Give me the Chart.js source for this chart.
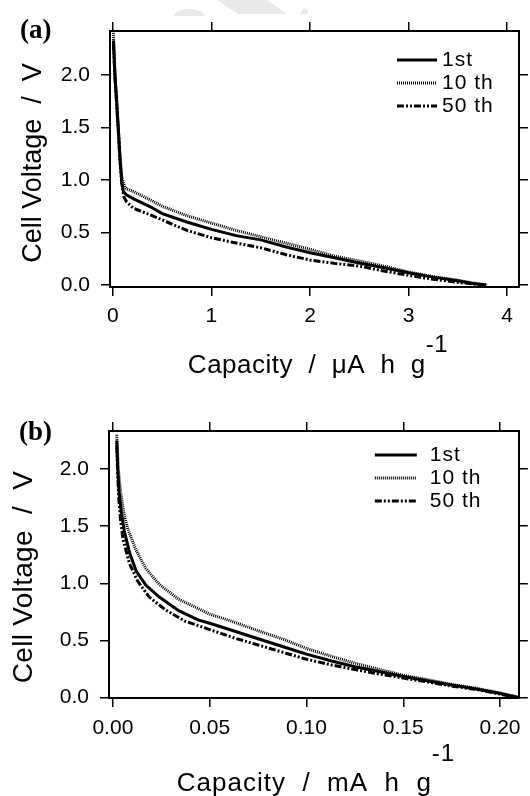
<!DOCTYPE html>
<html>
<head>
<meta charset="utf-8">
<script src="https://cdn.jsdelivr.net/npm/chart.js@4.4.0/dist/chart.umd.min.js"></script>
<style>
  html, body { margin: 0; padding: 0; background: #fff; }
  #wrap { width: 530px; height: 796px; overflow: hidden; }
  canvas { display: block; }
</style>
</head>
<body>
<div id="wrap">
  <canvas id="chartA" width="530" height="390"></canvas>
  <canvas id="chartB" width="530" height="406"></canvas>
</div>
<script>
// ----- DATA -----
const seriesNames = ["1st", "10 th", "50 th"];

// (a) capacity / uA h g-1 and cell voltage / V
const capA1st  = [0.005, 0.02, 0.037, 0.054, 0.071, 0.088, 0.105, 0.14, 0.21, 0.38, 0.5, 0.75, 1.0, 1.25, 1.5, 1.75, 2.0, 2.25, 2.5, 2.75, 3.0, 3.25, 3.5, 3.65, 3.79];
const voltA1st = [2.33, 2.0, 1.75, 1.49, 1.21, 1.0, 0.89, 0.857, 0.82, 0.745, 0.68, 0.60, 0.53, 0.47, 0.43, 0.365, 0.307, 0.26, 0.21, 0.165, 0.117, 0.075, 0.04, 0.015, 0.0];
const capA10th  = [0.003, 0.02, 0.037, 0.054, 0.071, 0.09, 0.122, 0.14, 0.21, 0.38, 0.5, 0.75, 1.0, 1.25, 1.5, 1.75, 2.0, 2.25, 2.5, 2.75, 3.0, 3.25, 3.5, 3.65, 3.8];
const voltA10th = [2.42, 2.02, 1.77, 1.51, 1.23, 1.02, 0.93, 0.914, 0.89, 0.81, 0.75, 0.66, 0.59, 0.52, 0.46, 0.40, 0.34, 0.275, 0.23, 0.18, 0.124, 0.08, 0.045, 0.02, 0.0];
const capA50th  = [0.004, 0.02, 0.037, 0.054, 0.071, 0.088, 0.11, 0.14, 0.21, 0.38, 0.55, 0.75, 1.0, 1.25, 1.5, 1.75, 2.0, 2.25, 2.5, 2.75, 3.0, 3.25, 3.5, 3.75];
const voltA50th = [2.3, 1.98, 1.73, 1.47, 1.19, 0.98, 0.84, 0.79, 0.73, 0.667, 0.60, 0.52, 0.45, 0.40, 0.355, 0.29, 0.238, 0.206, 0.18, 0.133, 0.092, 0.055, 0.025, 0.0];

// (b) capacity / mA h g-1 and cell voltage / V
const capB1st  = [0.002, 0.0025, 0.0032, 0.0045, 0.006, 0.0086, 0.012, 0.017, 0.024, 0.034, 0.044, 0.05, 0.063, 0.075, 0.088, 0.10, 0.113, 0.125, 0.138, 0.15, 0.163, 0.175, 0.188, 0.20, 0.21];
const voltB1st = [2.25, 2.0, 1.8, 1.6, 1.45, 1.27, 1.11, 0.985, 0.88, 0.76, 0.68, 0.65, 0.58, 0.515, 0.445, 0.38, 0.32, 0.27, 0.225, 0.185, 0.145, 0.11, 0.075, 0.035, 0.0];
const capB10th  = [0.002, 0.0028, 0.004, 0.0058, 0.0078, 0.012, 0.017, 0.024, 0.034, 0.044, 0.05, 0.061, 0.075, 0.088, 0.10, 0.113, 0.125, 0.138, 0.15, 0.163, 0.175, 0.188, 0.20, 0.21];
const voltB10th = [2.30, 2.0, 1.8, 1.6, 1.47, 1.29, 1.13, 0.99, 0.86, 0.78, 0.73, 0.67, 0.585, 0.51, 0.43, 0.36, 0.30, 0.245, 0.195, 0.155, 0.115, 0.08, 0.04, 0.0];
const capB50th  = [0.002, 0.0024, 0.003, 0.004, 0.0052, 0.0086, 0.0128, 0.0187, 0.027, 0.037, 0.05, 0.063, 0.075, 0.088, 0.10, 0.113, 0.125, 0.138, 0.15, 0.163, 0.175, 0.188, 0.20, 0.208];
const voltB50th = [2.2, 2.0, 1.75, 1.55, 1.39, 1.17, 1.02, 0.88, 0.77, 0.67, 0.595, 0.52, 0.46, 0.395, 0.335, 0.285, 0.245, 0.205, 0.17, 0.135, 0.10, 0.07, 0.03, 0.0];

// tick labels
const xTicksA = [0, 1, 2, 3, 4];
const xTicksB = [0, 0.05, 0.1, 0.15, 0.2];
const yTicks  = [0, 0.5, 1.0, 1.5, 2.0];

// ----- STYLES -----
const FONT = '"Liberation Sans", Arial, sans-serif';
const lineDashes = [[], [1, 1], [7, 2, 2, 2, 2, 2]];

function toPoints(xs, ys) {
  return xs.map((x, i) => ({ x: x, y: ys[i] }));
}

function makeDatasets(pairs) {
  return pairs.map((p, i) => ({
    label: seriesNames[i],
    data: toPoints(p[0], p[1]),
    borderColor: '#000',
    borderWidth: 3,
    borderDash: lineDashes[i],
    borderCapStyle: 'butt',
    pointRadius: 0,
    tension: 0,
    fill: false
  }));
}

function axis(pos, min, max, ticks, size, showLabels, pad, digits) {
  return {
    type: 'linear',
    position: pos,
    min: min,
    max: max,
    afterBuildTicks: s => { s.ticks = ticks.map(v => ({ value: v })); },
    afterFit: s => { if (s.isHorizontal()) s.height = size; else s.width = size; },
    grid: { drawOnChartArea: false, drawTicks: true, tickLength: 9, color: '#000', lineWidth: 1.5 },
    border: { display: true, color: '#000', width: 2 },
    ticks: {
      display: showLabels,
      padding: pad,
      color: '#000',
      font: { family: FONT, size: 21 },
      callback: v => Number(v).toFixed(digits)
    }
  };
}

// titles, panel letter and in-plot legend
const decor = {
  id: 'decor',
  beforeDraw(chart, args, o) {
    if (!o.watermark) return;
    // faint grey watermark fragments at the top edge
    const ctx = chart.ctx;
    ctx.save();
    ctx.fillStyle = '#e8e8e8';
    ctx.beginPath();
    ctx.moveTo(217, 0); ctx.lineTo(267, 0); ctx.lineTo(287, 14); ctx.lineTo(238, 14);
    ctx.closePath(); ctx.fill();
    ctx.beginPath();
    ctx.moveTo(300, 14); ctx.lineTo(304, 8); ctx.lineTo(308, 10); ctx.lineTo(307, 14);
    ctx.closePath(); ctx.fill();
    ctx.beginPath();
    ctx.ellipse(189, 16, 15, 7, 0, Math.PI, 2 * Math.PI);
    ctx.closePath(); ctx.fill();
    ctx.restore();
  },
  afterDraw(chart, args, o) {
    const ctx = chart.ctx;
    const area = chart.chartArea;
    ctx.save();
    ctx.fillStyle = '#000';

    ctx.font = 'bold 27px "Liberation Serif", "Times New Roman", serif';
    ctx.textAlign = 'left';
    ctx.textBaseline = 'alphabetic';
    ctx.fillText(o.panel, o.panelX, o.panelY);

    // y title
    ctx.save();
    ctx.font = o.yFont;
    ctx.letterSpacing = o.ySpacing;
    ctx.translate(o.yTitleX, o.yTitleY);
    ctx.rotate(-Math.PI / 2);
    ctx.textAlign = 'center';
    ctx.textBaseline = 'middle';
    ctx.fillText('Cell Voltage  /  V', 0, 0);
    ctx.restore();

    // x title with superscript
    ctx.letterSpacing = o.xSpacing;
    ctx.font = o.xFont;
    const w = ctx.measureText(o.xTitle).width;
    ctx.font = o.supFont;
    const ws = ctx.measureText('-1').width;
    const x0 = o.xTitleCx - (w + ws) / 2;
    ctx.textAlign = 'left';
    ctx.font = o.xFont;
    ctx.fillText(o.xTitle, x0, o.xTitleY);
    ctx.font = o.supFont;
    ctx.fillText('-1', x0 + w, o.supY);

    // legend
    ctx.letterSpacing = '1px';
    ctx.font = '21px ' + FONT;
    ctx.textBaseline = 'middle';
    chart.data.datasets.forEach((ds, i) => {
      const y = o.legTop + i * o.legStep;
      ctx.save();
      ctx.strokeStyle = ds.borderColor;
      ctx.lineWidth = ds.borderWidth;
      ctx.setLineDash(ds.borderDash);
      ctx.beginPath();
      ctx.moveTo(area.right - o.legLine0, y);
      ctx.lineTo(area.right - o.legLine1, y);
      ctx.stroke();
      ctx.restore();
      ctx.fillText(ds.label, area.right - o.legText, y);
    });
    ctx.restore();
  }
};

function makeChart(id, datasets, scales, decorOpts) {
  return new Chart(document.getElementById(id).getContext('2d'), {
    type: 'line',
    data: { datasets: datasets },
    options: {
      responsive: false,
      animation: false,
      events: [],
      layout: { padding: 0 },
      scales: scales,
      plugins: { legend: { display: false }, tooltip: { enabled: false }, decor: decorOpts }
    },
    plugins: [decor]
  });
}

// ----- CHARTS -----
makeChart('chartA',
  makeDatasets([[capA1st, voltA1st], [capA10th, voltA10th], [capA50th, voltA50th]]),
  {
    x:  axis('bottom', -0.03, 4.122, xTicksA, 103, true, 8, 0),
    x2: axis('top', -0.03, 4.122, xTicksA, 31, false, 0, 0),
    y:  axis('left', -0.019, 2.419, yTicks, 110, true, 11, 1),
    y2: axis('right', -0.019, 2.419, yTicks, 11, false, 0, 1)
  },
  {
    watermark: true,
    panel: '(a)', panelX: 20, panelY: 38,
    yFont: '27px ' + FONT, ySpacing: '0px', yTitleX: 34, yTitleY: 163,
    xTitle: 'Capacity  /  \u03bcA  h  g', xFont: '26px ' + FONT, supFont: '24px ' + FONT,
    xSpacing: '0.5px', xTitleCx: 318, xTitleY: 373, supY: 352,
    legTop: 60, legStep: 23, legLine0: 122, legLine1: 82, legText: 77
  });

makeChart('chartB',
  makeDatasets([[capB1st, voltB1st], [capB10th, voltB10th], [capB50th, voltB50th]]),
  {
    x:  axis('bottom', -0.002, 0.2097, xTicksB, 98, true, 9, 2),
    x2: axis('top', -0.002, 0.2097, xTicksB, 41, false, 0, 2),
    y:  axis('left', -0.004, 2.333, yTicks, 109, true, 11, 1),
    y2: axis('right', -0.004, 2.333, yTicks, 3, false, 0, 1)
  },
  {
    watermark: false,
    panel: '(b)', panelX: 19, panelY: 50,
    yFont: '28px ' + FONT, ySpacing: '0.3px', yTitleX: 24, yTitleY: 187,
    xTitle: 'Capacity  /  mA  h  g', xFont: '26px ' + FONT, supFont: '24px ' + FONT,
    xSpacing: '1px', xTitleCx: 316, xTitleY: 401, supY: 371,
    legTop: 65, legStep: 23, legLine0: 144, legLine1: 102, legText: 89
  });
</script>
</body>
</html>
